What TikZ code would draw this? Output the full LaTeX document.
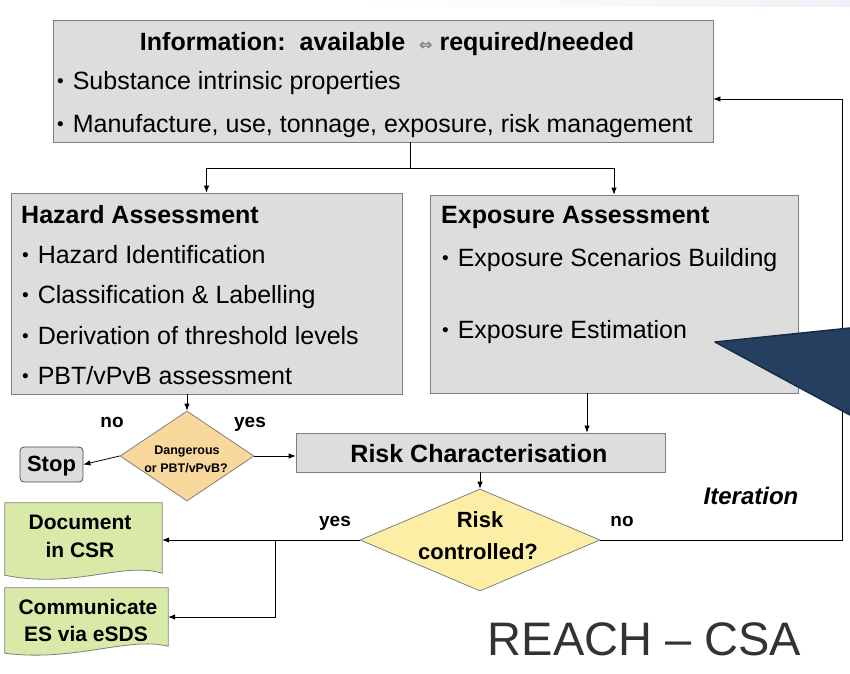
\documentclass[tikz,border=0pt]{standalone}
\usepackage{fontspec}
\setmainfont{Liberation Sans}
\newfontfamily\symfont{DejaVu Sans}
\usetikzlibrary{arrows.meta,shapes.geometric,calc}
\definecolor{boxfill}{HTML}{DDDDDD}
\definecolor{boxline}{HTML}{7F7F7F}
\definecolor{orangefill}{HTML}{F9D89E}
\definecolor{yellowfill}{HTML}{FCEFA5}
\definecolor{greenfill}{HTML}{D9EAA8}
\definecolor{navy}{HTML}{243F60}
\definecolor{navyline}{HTML}{172C45}
\definecolor{bigtext}{HTML}{333333}
\definecolor{faint}{HTML}{EEF2F6}
\newcommand{\bul}{\raisebox{1.6pt}{\fontsize{19}{19}\selectfont •}\hspace{2pt} }
\begin{document}
\begin{tikzpicture}[x=1pt,y=-1pt,
  gbox/.style={draw=boxline,fill=boxfill,line width=0.8pt,inner sep=0pt},
  conn/.style={line width=0.8pt,black},
  arr/.style={conn,-{Latex[length=7pt,width=5.5pt]}},
  body/.style={inner sep=0pt,anchor=base west,font=\fontsize{25}{30}\selectfont},
  head/.style={inner sep=0pt,anchor=base west,font=\fontsize{25}{30}\selectfont\bfseries},
  lbl/.style={inner sep=0pt,anchor=base,font=\fontsize{19}{22}\selectfont\bfseries},
  ctext/.style={inner sep=0pt,anchor=base},
  decision/.style={diamond,draw=boxline,line width=0.8pt,inner sep=0pt,shape aspect=1},
  docbox/.style={draw=none,inner sep=0pt},
  docshape/.style={draw=boxline,fill=greenfill,line width=0.8pt}
]
\useasboundingbox (0,0) rectangle (850,673);
\shade[left color=white,right color=faint] (350,0) rectangle (850,6);

% boxes
\node[gbox,minimum width=660,minimum height=122] (info) at (383,81) {};
\node[gbox,minimum width=391,minimum height=201] (haz) at (206.5,293.5) {};
\node[gbox,minimum width=368,minimum height=198] (exp) at (614,294) {};
\node[gbox,minimum width=369,minimum height=39] (risk) at (480.5,452.5) {};
\node[gbox,draw=black!70,rounded corners=4pt,minimum width=63,minimum height=35] (stop) at (51.5,464.5) {};
\node[decision,fill=orangefill,minimum width=134,minimum height=90] (d1) at (187,456) {};
\node[decision,fill=yellowfill,minimum width=240,minimum height=102] (d2) at (480,540) {};
\node[docbox,minimum width=157,minimum height=70] (doc) at (83.5,538) {};
\node[docbox,minimum width=163,minimum height=58] (comm) at (86.5,617) {};
\draw[docshape] (doc.north west) -- (doc.north east) -- (doc.south east)
  .. controls ($(doc.south east)+(-40,-12)$) and ($(doc.south west)+(70,16)$) .. ($(doc.south west)+(0,2)$) -- cycle;
\draw[docshape] (comm.north west) -- (comm.north east) -- (comm.south east)
  .. controls ($(comm.south east)+(-40,-10)$) and ($(comm.south west)+(70,16)$) .. ($(comm.south west)+(0,7)$) -- cycle;

% texts
\node[ctext,font=\fontsize{25}{30}\selectfont\bfseries] (infoT) at (387,50)
  {Information:\ \ available\ \ {\symfont\fontsize{16}{16}\selectfont\color{boxline}⇔}\ required/needed};
\node[body] (infoA) at (57,89) {\bul Substance intrinsic properties};
\node[body] (infoB) at (57,132) {\bul Manufacture, use, tonnage, exposure, risk management};

\node[head] (hazT) at (21,223) {Hazard Assessment};
\node[body] (haz1) at (22,263) {\bul Hazard Identification};
\node[body] (haz2) at (22,303.5) {\bul Classification \& Labelling};
\node[body] (haz3) at (22,344) {\bul Derivation of threshold levels};
\node[body] (haz4) at (22,384) {\bul PBT/vPvB assessment};

\node[head] (expT) at (441,223) {Exposure Assessment};
\node[body] (exp1) at (442,266) {\bul Exposure Scenarios Building};
\node[body] (exp2) at (442,338) {\bul Exposure Estimation};

\node[ctext,font=\fontsize{25}{30}\selectfont\bfseries] (riskT) at (479,462) {Risk Characterisation};
\node[ctext,font=\fontsize{22}{26}\selectfont\bfseries] (stopT) at (51.5,471) {Stop};
\node[ctext,font=\fontsize{12.5}{14}\selectfont\bfseries] (d1a) at (187,454) {Dangerous};
\node[ctext,font=\fontsize{12.5}{14}\selectfont\bfseries] (d1b) at (186,472) {or PBT/vPvB?};
\node[ctext,font=\fontsize{22}{26}\selectfont\bfseries] (d2a) at (480,527) {Risk};
\node[ctext,font=\fontsize{22}{26}\selectfont\bfseries] (d2b) at (478,559) {controlled?};
\node[ctext,font=\fontsize{21}{25}\selectfont\bfseries] (docA) at (80,529) {Document};
\node[ctext,font=\fontsize{21}{25}\selectfont\bfseries] (docB) at (80,557) {in CSR};
\node[ctext,font=\fontsize{21}{25}\selectfont\bfseries] (commA) at (88,614) {Communicate};
\node[ctext,font=\fontsize{21}{25}\selectfont\bfseries] (commB) at (86,641) {ES via eSDS};

\node[lbl] (no1) at (112,427) {no};
\node[lbl] (yes1) at (250,427) {yes};
\node[lbl] (yes2) at (335,526) {yes};
\node[lbl] (no2) at (622,526) {no};
\node[ctext,font=\fontsize{24}{28}\selectfont\bfseries\itshape] (iter) at (751,504) {Iteration};
\node[ctext,font=\fontsize{47}{52}\selectfont,text=bigtext] (title) at (644.5,655) {REACH – CSA};

% connectors
\coordinate (j1) at (410,168);
\draw[conn] (info.south -| j1) -- (j1);
\draw[arr] (j1) -| (haz.north);
\draw[arr] (j1) -| (exp.north);
\draw[arr] (d1.north |- haz.south) -- (d1.north);
\draw[arr] (d1.west) -- (stop.east);
\draw[arr] (d1.east) -- (d1.east -| risk.west);
\coordinate (eo) at (587,0);
\draw[arr] (exp.south -| eo) -- (risk.north -| eo);
\draw[arr] (risk.south -| d2.north) -- (d2.north);
\draw[arr] (d2.west) -- (d2.west -| doc.east);
\coordinate (br) at (275,540);
\draw[arr] (br) |- (comm.east);
\coordinate (itc) at (842,99);
\draw[arr] (d2.east) -- (d2.east -| itc) -- (itc) -- (itc -| info.east);

% overlay triangle
\fill[navy] (715,342) -- (850,328) -- (850,415) -- cycle;
\draw[navyline,line width=1.5pt,line join=round] (850,328) -- (715,342) -- (850,415);
\end{tikzpicture}
\end{document}
